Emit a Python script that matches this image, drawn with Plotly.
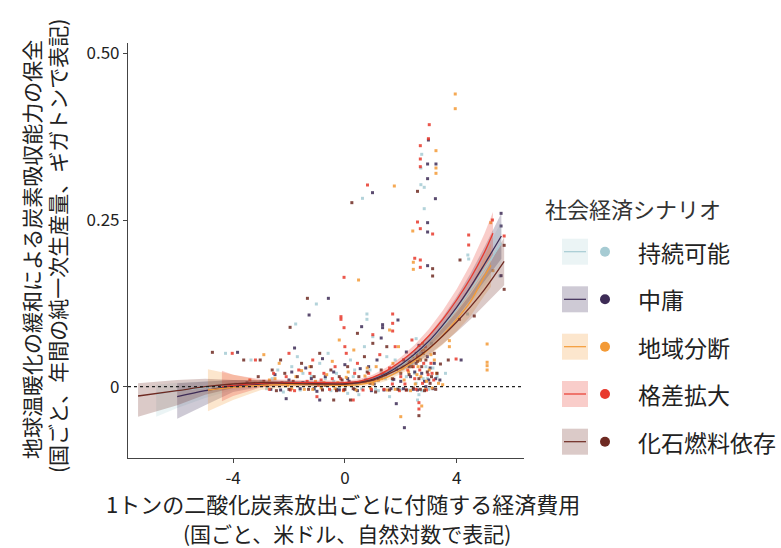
import plotly.graph_objects as go

# ---------------- data ----------------
scenarios = ["持続可能", "中庸", "地域分断", "格差拡大", "化石燃料依存"]
colors = ["#a6cbd3", "#3d2b56", "#f39a36", "#e8392d", "#6e2a22"]
band_colors = ["rgba(166,203,211,0.22)", "rgba(61,43,86,0.25)", "rgba(243,154,54,0.25)",
               "rgba(232,57,45,0.25)", "rgba(110,42,34,0.25)"]

# scatter points per scenario
sust_x = [2.75, 2.72, 2.72, 2.84, 2.84, 0.63, -1.02, -1.76, 0.79, 0.79, 4.40, 4.43, 5.55, 4.39, -4.27, -3.36,
          -3.9, -3.0, -2.6, -2.4, -2.2, -1.9, -1.7, -1.5, -1.3, -1.1, -0.9, -0.7, -0.6, -0.5, -0.3, -0.1, 0.1, 0.2,
          0.3, 0.5, 0.7, 0.9, 1.0, 1.1, 1.3, 1.5, 1.6, 1.7, 1.9, 2.1, 2.3, 2.5, 2.6, 2.7, 2.8, 2.9, 3.0, 3.1, 3.3,
          3.6, -0.2, 0.4, 2.65, 2.55,
          -2.8, -2.1, -1.6, -1.2, -0.8, -0.4, 0.0, 0.35, 0.6, 0.85, 1.2, 1.45, 1.8, 2.0, 2.2, 2.4, 2.55, 2.75,
          2.95, 3.15]
sust_y = [0.3485, 0.328, 0.303, 0.299, 0.267, 0.2825, 0.124, 0.094, 0.109, 0.101, 0.1975, 0.1915, 0.166, 0.109,
          0.050, 0.040,
          0.004, 0.008, 0.012, 0.025, -0.008, 0.030, 0.045, 0.020, 0.005, -0.004, 0.035, 0.012, 0.050, -0.006,
          0.020, 0.003, -0.010, 0.040, 0.015, -0.012, 0.060, 0.025, 0.075, -0.004, 0.020, 0.045, -0.015, 0.010,
          -0.002, 0.030, -0.005, 0.020, -0.020, 0.050, 0.012, 0.030, -0.004, 0.065, 0.015, 0.020, -0.003, 0.002,
          -0.012, 0.072,
          -0.003, 0.006, -0.005, 0.015, -0.004, 0.008, -0.005, 0.025, -0.003, 0.009, -0.006, 0.012, 0.040,
          -0.004, 0.015, 0.035, 0.005, -0.006, 0.012, 0.028]

mid_x = [2.99, 2.96, 3.26, 2.96, 3.24, 2.96, 2.96, 2.96, 0.99, -0.59, -1.28, 1.35, 1.35, 5.59, 5.59, 5.59, 4.16,
         -3.84, 2.13, 1.84,
         -3.5, -2.8, -2.5, -2.3, -2.0, -1.8, -1.6, -1.4, -1.2, -1.0, -0.8, -0.6, -0.4, -0.2, 0.0, 0.15, 0.35, 0.55,
         0.75, 0.95, 1.15, 1.3, 1.45, 1.65, 1.85, 2.0, 2.2, 2.35, 2.45, 2.55, 2.65, 2.75, 2.85, 2.95, 3.05, 3.15,
         3.25, -2.1, -0.9, 0.6, 1.9, 3.4, 2.9,
         -2.65, -1.9, -1.5, -1.1, -0.7, -0.3, 0.1, 0.45, 0.85, 1.05, 1.4, 1.75, 2.1, 2.3, 2.5, 2.6, 2.7, 2.8,
         3.0, 3.2]
mid_y = [0.370, 0.334, 0.334, 0.312, 0.282, 0.246, 0.232, 0.1815, 0.291, 0.1325, 0.1075, 0.093, 0.0885, 0.260,
         0.241, 0.1665, 0.040, 0.0515, -0.0615, -0.0255,
         0.006, 0.002, 0.018, -0.005, 0.010, 0.058, -0.003, 0.028, 0.012, -0.007, 0.042, 0.004, 0.022, -0.005,
         0.033, 0.008, -0.004, 0.027, 0.010, -0.006, 0.040, 0.073, 0.018, -0.003, 0.026, 0.008, 0.052, 0.015,
         -0.004, 0.035, 0.062, 0.020, 0.008, 0.045, 0.028, -0.003, 0.012, -0.018, -0.020, 0.090, 0.100, 0.010,
         0.000,
         -0.004, 0.022, 0.006, -0.003, 0.015, -0.004, 0.012, -0.006, 0.030, 0.004, -0.005, 0.011, -0.003, 0.030,
         0.022, -0.005, 0.040, 0.050, 0.010, 0.035]

div_x = [3.95, 3.95, 3.26, 3.26, 3.26, 2.43, 2.45, 2.45, 1.77, 0.49, 5.22, 5.30, 5.09, 5.09, 5.09, 5.09, 3.74,
         3.74, 2.75, -2.9,
         -3.2, -2.7, -2.35, -2.05, -1.75, -1.45, -1.25, -1.05, -0.85, -0.65, -0.45, -0.25, -0.05, 0.12, 0.32,
         0.52, 0.72, 0.92, 1.12, 1.32, 1.52, 1.72, 1.92, 2.12, 2.28, 2.42, 2.52, 2.62, 2.72, 2.82, 2.92, 3.02,
         3.12, 3.2, 3.35, 1.6, -0.2, 2.0, 3.5,
         -2.5, -1.9, -1.55, -1.15, -0.75, -0.35, 0.05, 0.4, 0.8, 1.0, 1.4, 1.8, 2.05, 2.35, 2.58, 2.68, 2.78,
         2.88, 3.08, 3.28]
div_y = [0.439, 0.417, 0.354, 0.328, 0.320, 0.2335, 0.1866, 0.176, 0.301, 0.160, 0.246, 0.174, 0.064, 0.0366,
         0.0315, 0.025, 0.069, 0.060, -0.029, 0.048,
         0.005, 0.010, 0.035, 0.002, 0.015, -0.004, 0.030, 0.008, -0.002, 0.018, 0.038, 0.006, -0.006, 0.022,
         0.055, 0.006, 0.016, -0.002, 0.030, 0.012, -0.005, 0.035, 0.060, 0.010, 0.022, 0.045, 0.004, 0.030,
         0.015, 0.055, 0.008, 0.025, -0.002, 0.040, 0.005, 0.085, 0.070, -0.045, 0.003,
         0.012, -0.003, 0.024, -0.004, 0.006, -0.003, 0.014, -0.005, 0.028, 0.004, 0.020, -0.004, 0.028, -0.006,
         0.018, 0.040, 0.065, -0.004, 0.048, 0.020]

ineq_x = [3.02, 2.99, 2.70, 2.70, 2.70, 2.60, 2.70, 3.14, 2.50, 2.70, 2.70, 0.81, -0.03, -0.14, -0.14, -0.03,
          1.71, 1.71, 1.71, 4.43, 4.43, 5.28, 5.70, 3.98, 2.65, 2.65, -4.03, -3.2,
          -3.4, -2.9, -2.55, -2.25, -1.95, -1.65, -1.35, -1.15, -0.95, -0.75, -0.55, -0.35, -0.15, 0.05, 0.25,
          0.45, 0.65, 0.85, 1.05, 1.25, 1.4, 1.6, 1.8, 2.0, 2.15, 2.3, 2.4, 2.5, 2.6, 2.68, 2.78, 2.88, 2.98,
          3.08, 3.18, -2.0, 0.0, 1.0, -1.0, 0.3, 2.2,
          -2.7, -2.1, -1.8, -1.25, -0.85, -0.45, -0.05, 0.35, 0.75, 0.95, 1.35, 1.7, 1.95, 2.25, 2.45, 2.55,
          2.72, 2.82, 2.92, 3.12]
ineq_y = [0.393, 0.372, 0.3615, 0.3415, 0.330, 0.247, 0.237, 0.229, 0.1926, 0.190, 0.179, 0.3025, 0.164, 0.105,
          0.101, 0.0885, 0.109, 0.095, 0.0835, 0.2275, 0.2125, 0.250, 0.226, 0.0415, -0.024, -0.0335, 0.050,
          0.040,
          0.010, 0.003, 0.020, 0.006, -0.005, 0.025, 0.008, 0.040, 0.002, 0.020, -0.004, 0.030, 0.012, 0.050,
          0.004, 0.035, -0.005, 0.020, 0.010, 0.048, -0.004, 0.028, 0.060, 0.015, 0.004, 0.038, 0.070, 0.012,
          0.045, 0.025, 0.005, 0.060, 0.018, 0.035, 0.010, 0.050, 0.060, 0.078, -0.015, -0.020, -0.005,
          -0.004, 0.015, -0.006, 0.020, 0.010, 0.012, -0.005, 0.020, 0.008, -0.004, 0.018, 0.004, -0.006, 0.025,
          0.030, -0.004, 0.055, 0.035, -0.005, 0.020]

foss_x = [2.60, 3.14, 3.14, 0.25, -1.34, -1.96, 4.12, 5.70, 5.70, 4.63, 4.10, 3.42, 2.65, -4.74, -3.62, -3.03,
          -3.6, -3.1, -2.75, -2.45, -2.15, -1.85, -1.55, -1.3, -1.1, -0.9, -0.7, -0.5, -0.3, -0.1, 0.1, 0.3, 0.5,
          0.7, 0.9, 1.1, 1.3, 1.5, 1.7, 1.9, 2.1, 2.3, 2.45, 2.55, 2.65, 2.75, 2.85, 2.95, 3.05, 3.2, 3.3, 0.2,
          -2.3, 1.0, -0.4, 0.45, 3.7,
          -2.9, -2.6, -2.0, -1.7, -1.2, -0.8, -0.2, 0.0, 0.4, 0.8, 1.2, 1.6, 2.0, 2.2, 2.4, 2.6, 2.7, 2.9, 3.1,
          3.25]
foss_y = [0.293, 0.177, 0.166, 0.276, 0.1325, 0.089, 0.190, 0.212, 0.146, 0.106, 0.101, 0.034, -0.0435, 0.0515,
          0.040, 0.040,
          0.003, 0.015, 0.005, -0.006, 0.020, 0.008, 0.035, -0.004, 0.015, 0.050, 0.002, 0.025, -0.006, 0.010,
          0.030, -0.003, 0.015, 0.045, 0.005, -0.008, 0.025, 0.060, 0.012, -0.004, 0.040, 0.018, -0.002, 0.050,
          0.012, 0.030, -0.006, 0.022, 0.005, 0.050, 0.020, -0.020, 0.040, 0.065, -0.020, 0.080, 0.040,
          0.008, 0.025, -0.004, 0.015, 0.030, -0.005, 0.015, -0.004, 0.006, 0.022, 0.010, -0.005, 0.020, -0.005,
          0.030, 0.038, -0.004, 0.040, 0.015, -0.004]

# fitted smooth curves and confidence bands per scenario
sust_fx = [-6.75, -6, -5, -4, -3, -2, -1, 0, 0.5, 1, 1.5, 2, 2.5, 3, 3.5, 4, 4.5, 5, 5.6]
sust_fy = [-0.011, -0.006, -0.001, 0.003, 0.005, 0.005, 0.004, 0.004, 0.006, 0.011, 0.020, 0.032, 0.048, 0.067,
           0.090, 0.116, 0.145, 0.177, 0.215]
sust_lo = [-0.045, -0.032, -0.017, -0.005, 0.001, 0.002, 0.001, 0.001, 0.003, 0.008, 0.016, 0.027, 0.041, 0.058,
           0.078, 0.100, 0.125, 0.152, 0.183]
sust_hi = [0.003, 0.006, 0.008, 0.010, 0.009, 0.008, 0.007, 0.007, 0.009, 0.014, 0.024, 0.037, 0.055, 0.076,
           0.102, 0.132, 0.165, 0.202, 0.247]

mid_fx = [-6.0, -5, -4, -3, -2, -1, 0, 0.5, 1, 1.5, 2, 2.5, 3, 3.5, 4, 4.5, 5, 5.6]
mid_fy = [-0.015, -0.006, 0.001, 0.004, 0.006, 0.005, 0.004, 0.006, 0.011, 0.020, 0.033, 0.049, 0.068, 0.092,
          0.119, 0.150, 0.184, 0.226]
mid_lo = [-0.048, -0.028, -0.008, 0.000, 0.003, 0.002, 0.001, 0.003, 0.008, 0.016, 0.028, 0.042, 0.059, 0.080,
          0.103, 0.130, 0.158, 0.192]
mid_hi = [0.005, 0.008, 0.010, 0.009, 0.009, 0.008, 0.007, 0.009, 0.014, 0.024, 0.038, 0.056, 0.077, 0.104,
          0.135, 0.170, 0.210, 0.260]

div_fx = [-4.9, -4, -3, -2, -1, 0, 0.5, 1, 1.5, 2, 2.5, 3, 3.5, 4, 4.5, 5, 5.23]
div_fy = [-0.005, -0.001, 0.002, 0.003, 0.003, 0.002, 0.003, 0.007, 0.014, 0.025, 0.039, 0.056, 0.077, 0.101,
          0.128, 0.166, 0.182]
div_lo = [-0.037, -0.020, -0.005, -0.001, 0.000, -0.001, 0.000, 0.003, 0.009, 0.019, 0.031, 0.046, 0.063, 0.083,
          0.106, 0.137, 0.150]
div_hi = [0.026, 0.018, 0.009, 0.007, 0.006, 0.005, 0.006, 0.011, 0.019, 0.031, 0.047, 0.066, 0.091, 0.119,
          0.150, 0.195, 0.215]

ineq_fx = [-4.4, -4, -3, -2, -1, 0, 0.5, 1, 1.5, 2, 2.5, 3, 3.5, 4, 4.5, 5, 5.3]
ineq_fy = [0.000, 0.002, 0.005, 0.006, 0.006, 0.006, 0.008, 0.014, 0.024, 0.038, 0.055, 0.076, 0.101, 0.130,
           0.163, 0.202, 0.230]
ineq_lo = [-0.022, -0.014, -0.001, 0.002, 0.003, 0.003, 0.005, 0.010, 0.019, 0.032, 0.047, 0.066, 0.088, 0.114,
           0.142, 0.174, 0.196]
ineq_hi = [0.024, 0.018, 0.011, 0.010, 0.009, 0.009, 0.011, 0.018, 0.029, 0.044, 0.063, 0.086, 0.114, 0.146,
           0.184, 0.230, 0.262]

foss_fx = [-7.4, -6, -5, -4, -3, -2, -1, 0, 0.5, 1, 1.5, 2, 2.5, 3, 3.5, 4, 4.5, 5, 5.7]
foss_fy = [-0.014, -0.006, 0.000, 0.004, 0.006, 0.005, 0.004, 0.004, 0.006, 0.010, 0.018, 0.028, 0.041, 0.057,
           0.076, 0.097, 0.120, 0.146, 0.188]
foss_lo = [-0.045, -0.028, -0.012, -0.002, 0.002, 0.002, 0.001, 0.001, 0.003, 0.006, 0.013, 0.022, 0.034, 0.048,
           0.064, 0.082, 0.101, 0.122, 0.152]
foss_hi = [0.005, 0.010, 0.012, 0.010, 0.010, 0.008, 0.007, 0.007, 0.009, 0.014, 0.023, 0.034, 0.048, 0.066,
           0.088, 0.112, 0.139, 0.170, 0.224]

x_ticks = [-4, 0, 4]
y_ticks = [0, 0.25, 0.5]
y_ticklabels = ["0", "0.25", "0.50"]

legend_title = "社会経済シナリオ"
x_title_lines = ["1トンの二酸化炭素放出ごとに付随する経済費用", "(国ごと、米ドル、自然対数で表記)"]
y_title_lines = ["地球温暖化の緩和による炭素吸収能力の保全", "(国ごと、年間の純一次生産量、ギガトンで表記)"]

points = [(sust_x, sust_y), (mid_x, mid_y), (div_x, div_y), (ineq_x, ineq_y), (foss_x, foss_y)]
fits = [(sust_fx, sust_fy, sust_lo, sust_hi), (mid_fx, mid_fy, mid_lo, mid_hi), (div_fx, div_fy, div_lo, div_hi),
        (ineq_fx, ineq_fy, ineq_lo, ineq_hi), (foss_fx, foss_fy, foss_lo, foss_hi)]

FONT = "Noto Sans CJK JP"
fig = go.Figure()

# scatter points
for (px, py), c in zip(points, colors):
    fig.add_trace(go.Scatter(x=px, y=py, mode="markers",
                             marker=dict(color=c, size=3, symbol="square", opacity=0.85, line=dict(width=0)),
                             showlegend=False, hoverinfo="skip"))

# bands
for (fx, fy, lo, hi), bc in zip(fits, band_colors):
    fig.add_trace(go.Scatter(x=list(fx) + list(fx)[::-1], y=list(hi) + list(lo)[::-1], fill="toself",
                             fillcolor=bc, line=dict(width=0), mode="lines", showlegend=False,
                             hoverinfo="skip"))
# lines
for (fx, fy, lo, hi), c in zip(fits, colors):
    fig.add_trace(go.Scatter(x=fx, y=fy, mode="lines", line=dict(color=c, width=1.3, shape="spline"),
                             showlegend=False, hoverinfo="skip"))

# plot area in pixels
L, R, T, B = 128, 524, 43, 458
W, H = 781, 548
pw, ph = R - L, B - T


def px2p(x):
    return (x - L) / pw


def py2p(y):
    return (B - y) / ph


shapes = []
# zero dotted line
shapes.append(dict(type="line", xref="paper", yref="y", x0=0, x1=1, y0=0, y1=0,
                   line=dict(color="#222222", width=1.2, dash="dot"), layer="above"))

annotations = []
# custom legend
annotations.append(dict(text=legend_title, x=px2p(543), y=py2p(208), xref="paper", yref="paper",
                        xanchor="left", yanchor="middle", showarrow=False,
                        font=dict(family=FONT, size=22, color="#333333")))
ys = [251.7, 299.3, 346.7, 394.0, 441.7]
for name, c, bc, yy in zip(scenarios, colors, band_colors, ys):
    shapes.append(dict(type="rect", xref="paper", yref="paper", x0=px2p(562), x1=px2p(588),
                       y0=py2p(yy + 13), y1=py2p(yy - 13), fillcolor=bc, line=dict(width=0)))
    shapes.append(dict(type="line", xref="paper", yref="paper", x0=px2p(564), x1=px2p(586),
                       y0=py2p(yy), y1=py2p(yy), line=dict(color=c, width=1.2)))
    shapes.append(dict(type="circle", xref="paper", yref="paper", x0=px2p(600), x1=px2p(610),
                       y0=py2p(yy + 5), y1=py2p(yy - 5), fillcolor=c, line=dict(width=0)))
    annotations.append(dict(text=name, x=px2p(636), y=py2p(yy), xref="paper", yref="paper",
                            xanchor="left", yanchor="middle", showarrow=False,
                            font=dict(family=FONT, size=23, color="#222222")))

# axis titles (each line as its own text)
for txt, cx, cy, sz in zip(x_title_lines, [343, 347], [503, 533], [22, 21]):
    annotations.append(dict(text=txt, x=px2p(cx), y=py2p(cy), xref="paper", yref="paper",
                            xanchor="center", yanchor="middle", showarrow=False, borderpad=0,
                            font=dict(family=FONT, size=sz, color="#222222")))
for txt, cx, cy in zip(y_title_lines, [31, 57], [250, 246]):
    annotations.append(dict(text=txt, x=px2p(cx), y=py2p(cy), xref="paper", yref="paper",
                            xanchor="center", yanchor="middle", showarrow=False, textangle=-90,
                            font=dict(family=FONT, size=21, color="#222222")))

fig.update_layout(
    width=W, height=H,
    margin=dict(l=L, r=W - R, t=T, b=H - B, pad=0),
    paper_bgcolor="white", plot_bgcolor="white",
    showlegend=False,
    shapes=shapes, annotations=annotations,
    font=dict(family=FONT, size=17, color="#222222"),
    xaxis=dict(range=[-7.76, 6.41], tickvals=x_ticks, ticktext=[str(v) for v in x_ticks],
               showline=True, linecolor="#444444", linewidth=1.2, ticks="outside", ticklen=4,
               tickcolor="#444444", showgrid=False, zeroline=False, tickfont=dict(size=17)),
    yaxis=dict(range=[-0.107, 0.5155], tickvals=y_ticks, ticktext=y_ticklabels,
               showline=True, linecolor="#444444", linewidth=1.2, ticks="outside", ticklen=4,
               tickcolor="#444444", showgrid=False, zeroline=False, tickfont=dict(size=17)),
)

fig.write_html("out.html", config={"displayModeBar": False})

# remove the default page margin so the figure sits at the top-left corner
with open("out.html", "r", encoding="utf-8") as f:
    html = f.read()
html = html.replace("<head>", "<head><style>html,body{margin:0;padding:0;overflow:hidden;}</style>", 1)
with open("out.html", "w", encoding="utf-8") as f:
    f.write(html)
